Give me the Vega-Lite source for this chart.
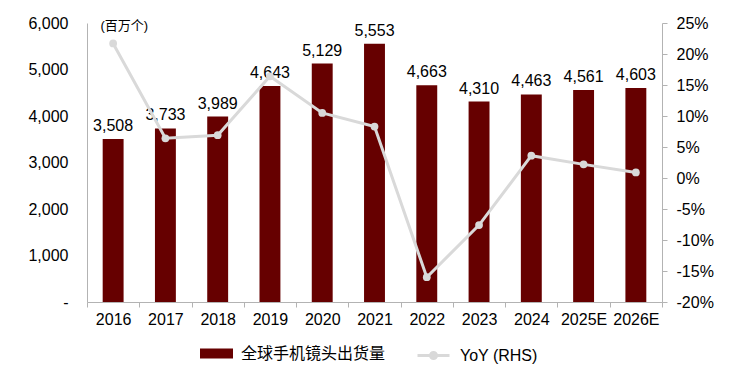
{
  "$schema": "https://vega.github.io/schema/vega-lite/v6.json",
  "autosize": "none",
  "width": 575,
  "height": 279,
  "padding": {"left": 87, "top": 23, "right": 82, "bottom": 80},
  "background": "white",
  "config": {
    "font": "Liberation Sans, Noto Sans CJK SC",
    "view": {"stroke": null},
    "axis": {"labelFont": "Liberation Sans, Noto Sans CJK SC", "labelFontSize": 16, "labelColor": "#000000", "domainColor": "#b3b3b3", "tickColor": "#b3b3b3", "grid": false, "labelOverlap": false, "labelBound": false},
    "legend": {"labelFont": "Liberation Sans, Noto Sans CJK SC", "labelFontSize": 16, "labelColor": "#000000"}
  },
  "data": {
    "values": [
      {"year": "2016", "shipment": 3508, "yoy": 21.7},
      {"year": "2017", "shipment": 3733, "yoy": 6.4},
      {"year": "2018", "shipment": 3989, "yoy": 6.9},
      {"year": "2019", "shipment": 4643, "yoy": 16.4},
      {"year": "2020", "shipment": 5129, "yoy": 10.5},
      {"year": "2021", "shipment": 5553, "yoy": 8.3},
      {"year": "2022", "shipment": 4663, "yoy": -16.0},
      {"year": "2023", "shipment": 4310, "yoy": -7.6},
      {"year": "2024", "shipment": 4463, "yoy": 3.6},
      {"year": "2025E", "shipment": 4561, "yoy": 2.2},
      {"year": "2026E", "shipment": 4603, "yoy": 0.9}
    ]
  },
  "layer": [
    {
      "encoding": {
        "x": {"field": "year", "type": "nominal", "sort": null, "scale": {"paddingInner": 0, "paddingOuter": 0},
          "axis": {"title": null, "labelAngle": 0, "tickBand": "extent", "tickSize": 5, "labelPadding": 4, "domainColor": "#b3b3b3", "labelOverlap": false}},
        "y": {"field": "shipment", "type": "quantitative", "scale": {"domain": [0, 6000], "nice": false},
          "axis": {"values": [0, 1000, 2000, 3000, 4000, 5000, 6000], "ticks": false, "tickSize": 0, "labelPadding": 19, "labelOverlap": false,
            "labelExpr": "datum.value == 0 ? '-  ' : format(datum.value, ',')",
            "title": "(百万个)", "titleAngle": 0, "titleAlign": "left", "titleBaseline": "middle", "titleX": 13, "titleY": 2,
            "titleFontSize": 13, "titleFontWeight": "normal", "titleColor": "#000000", "titleFont": "Liberation Sans, Noto Sans CJK SC"}}
      },
      "layer": [
        {
          "mark": {"type": "bar", "width": {"band": 0.4}},
          "encoding": {
            "fill": {"datum": "全球手机镜头出货量", "type": "nominal", "scale": {"range": ["#660000"]},
              "legend": {"title": null, "orient": "none", "legendX": 113, "legendY": 314, "symbolType": "M-1,-0.3H1V0.3H-1Z", "symbolSize": 1089, "labelOffset": 8, "symbolStrokeWidth": 0}}
          }
        },
        {
          "mark": {"type": "text", "baseline": "bottom", "dy": -5, "fontSize": 16, "color": "#000000"},
          "encoding": {
            "text": {"field": "shipment", "type": "quantitative", "format": ","}
          }
        }
      ]
    },
    {
      "encoding": {
        "x": {"field": "year", "type": "nominal", "sort": null},
        "y": {"field": "yoy", "type": "quantitative", "scale": {"domain": [-20, 25], "nice": false},
          "axis": {"orient": "right", "title": null, "values": [-20, -15, -10, -5, 0, 5, 10, 15, 20, 25], "tickCount": 10, "tickSize": 5, "labelPadding": 9, "labelOverlap": false, "labelBound": false,
            "labelExpr": "(datum.value < 0 ? '-' : '') + format(abs(datum.value), 'd') + '%'"}}
      },
      "layer": [
        {
          "mark": {"type": "line", "strokeWidth": 3},
          "encoding": {
            "stroke": {"datum": "YoY (RHS)", "type": "nominal", "scale": {"range": ["#d9d9d9"]},
              "legend": {"title": null, "orient": "none", "legendX": 329, "legendY": 315,
                "symbolType": "M-1,0H1M0.19,0A0.19,0.19 0 1,1 -0.19,0A0.19,0.19 0 1,1 0.19,0Z", "symbolSize": 1024, "symbolStrokeWidth": 3,
                "symbolFillColor": "#d9d9d9", "labelOffset": 9,
                "encode": {"symbols": {"update": {"fill": {"value": "#d9d9d9"}, "stroke": {"value": "#d9d9d9"}}}}}}
          }
        },
        {
          "mark": {"type": "point", "filled": true, "size": 60, "color": "#d9d9d9", "opacity": 1}
        }
      ]
    }
  ],
  "resolve": {"scale": {"y": "independent", "fill": "independent", "stroke": "independent"}}
}
